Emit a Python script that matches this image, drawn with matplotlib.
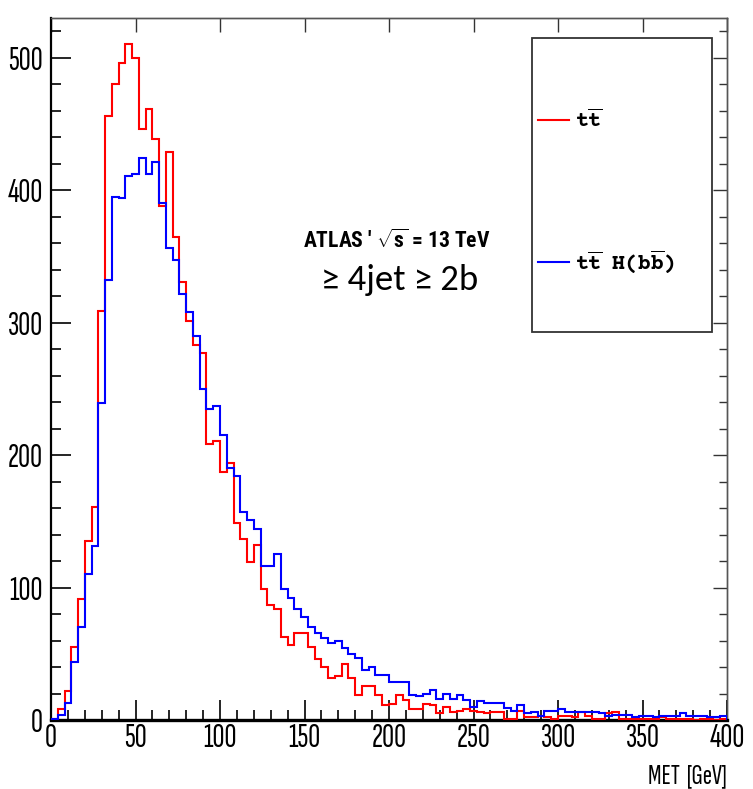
import matplotlib
matplotlib.use("Agg")
import matplotlib.pyplot as plt
import numpy as np
from matplotlib import font_manager
from matplotlib.ticker import MultipleLocator
from matplotlib.patches import Rectangle
from matplotlib.lines import Line2D

# ---------------- data ----------------
bin_width_gev = 4
x_range_gev = [0, 400]

series_labels = [r"$\mathtt{t\overline{t}}$", r"$\mathtt{t\overline{t}\ \ H(b\overline{b})}$"]
series_colors = ["#ff0000", "#0000ff"]

tt_counts = [1, 8, 22, 55, 91, 135, 161, 309, 456, 480,
             496, 510, 500, 446, 461, 439, 388, 429, 365, 331,
             301, 283, 277, 208, 211, 187, 194, 149, 137, 119,
             132, 99, 87, 84, 63, 57, 66, 66, 55, 46,
             40, 32, 33, 42, 32, 19, 26, 26, 19, 11,
             12, 19, 15, 8, 8, 12, 11, 5, 10, 6,
             7, 8, 7, 6, 5, 6, 6, 1, 1, 7,
             2, 2, 3, 2, 1, 3, 3, 2, 6, 3,
             1, 1, 5, 6, 1, 1, 1, 1, 1, 1,
             2, 1, 1, 1, 1, 0, 1, 1, 0, 1]

tth_counts = [1, 4, 13, 44, 70, 110, 131, 239, 332, 395,
              394, 411, 412, 424, 412, 421, 390, 356, 347, 322,
              308, 290, 250, 235, 237, 215, 190, 184, 157, 151,
              144, 116, 116, 125, 99, 92, 84, 78, 70, 66,
              62, 58, 60, 54, 50, 47, 38, 40, 34, 34,
              29, 29, 29, 19, 18, 20, 23, 16, 20, 16,
              19, 15, 10, 14, 13, 13, 13, 9, 7, 11,
              5, 6, 3, 7, 7, 8, 6, 6, 6, 6,
              6, 5, 3, 4, 4, 4, 2, 3, 3, 2,
              3, 3, 3, 5, 3, 3, 3, 2, 2, 3]

y_max = 530
x_label = "MET  [GeV]"
atlas_text = r"ATLAS ' $\sqrt{\mathbf{s}}$ = 13 TeV"
selection_text = "≥ 4jet ≥ 2b"

# ---------------- fonts ----------------
available = {f.name for f in font_manager.fontManager.ttflist}


def pick(*names):
    for n in names:
        if n in available:
            return n
    return "DejaVu Sans"


narrow = pick("Sofia Sans Extra Condensed", "Roboto Condensed", "Liberation Sans")
cond = pick("Roboto Condensed", "Liberation Sans")
mono = pick("Courier Prime", "Liberation Mono", "DejaVu Sans Mono")
calib = pick("Carlito", "Open Sans", "DejaVu Sans")

plt.rcParams["font.family"] = [narrow, "DejaVu Sans"]
plt.rcParams["mathtext.fontset"] = "custom"
plt.rcParams["mathtext.rm"] = f"{cond}:bold"
plt.rcParams["mathtext.bf"] = f"{cond}:bold"
plt.rcParams["mathtext.it"] = f"{cond}:bold"
plt.rcParams["mathtext.tt"] = f"{mono}:bold"

# ---------------- figure ----------------
W, H = 753, 789
fig = plt.figure(figsize=(W / 100, H / 100), dpi=100)
left_px, right_px, top_px, bottom_px = 51, 727, 18, 720
ax = fig.add_axes([left_px / W, 1 - bottom_px / H,
                   (right_px - left_px) / W, (bottom_px - top_px) / H])

edges = np.arange(x_range_gev[0], x_range_gev[1] + bin_width_gev, bin_width_gev)
for vals, col in zip([tt_counts, tth_counts], series_colors):
    ax.stairs(vals, edges, color=col, linewidth=1.5, baseline=0, zorder=3)

ax.set_xlim(*x_range_gev)
ax.set_ylim(0, y_max)

ax.xaxis.set_major_locator(MultipleLocator(50))
ax.xaxis.set_minor_locator(MultipleLocator(10))
ax.yaxis.set_major_locator(MultipleLocator(100))
ax.yaxis.set_minor_locator(MultipleLocator(20))

px = 72 / 100.0
ax.tick_params(which="major", direction="in", length=20 * px, width=1.2,
               color="black", top=False, right=False)
ax.tick_params(which="minor", direction="in", length=10 * px, width=1.2,
               color="black", top=False, right=False)
ax.tick_params(axis="x", which="major", pad=2, labelsize=24)
ax.tick_params(axis="y", which="major", pad=6, labelsize=24)

ax.spines["left"].set_linewidth(1.6)
ax.spines["bottom"].set_linewidth(2.4)
ax.spines["left"].set_color("black")
ax.spines["bottom"].set_color("black")
for s in ["top", "right"]:
    ax.spines[s].set_linewidth(1.0)
    ax.spines[s].set_color("#555555")

# top and right ticks
secx = ax.secondary_xaxis("top")
secx.xaxis.set_major_locator(MultipleLocator(50))
secx.tick_params(which="major", direction="in", length=14 * px, width=1.0,
                 color="#333333", labeltop=False)
secx.spines["top"].set_linewidth(1.0)
secx.spines["top"].set_color("#555555")
secy = ax.secondary_yaxis("right")
secy.yaxis.set_major_locator(MultipleLocator(100))
secy.yaxis.set_minor_locator(MultipleLocator(20))
secy.tick_params(which="major", direction="in", length=14 * px, width=1.0,
                 color="#333333", labelright=False)
secy.tick_params(which="minor", direction="in", length=8 * px, width=1.0,
                 color="#333333", labelright=False)
secy.spines["right"].set_linewidth(1.0)
secy.spines["right"].set_color("#555555")

ax.set_xlabel(x_label, loc="right", fontsize=20, labelpad=8)

# annotation texts
ax.text(0.373, 0.672, atlas_text, transform=ax.transAxes, fontsize=15.6,
        fontweight="bold", fontfamily=[cond, "DejaVu Sans"],
        ha="left", va="baseline")
ax.text(0.400, 0.6125, selection_text, transform=ax.transAxes, fontsize=26.5,
        fontfamily=[calib, "DejaVu Sans"], ha="left", va="baseline")

# legend box (ROOT TLegend style)
lx0, lx1, ly0, ly1 = 532, 712, 38, 332
fig.patches.append(Rectangle((lx0 / W, 1 - ly1 / H), (lx1 - lx0) / W, (ly1 - ly0) / H,
                             transform=fig.transFigure, facecolor="white",
                             edgecolor="#333333", linewidth=1.3, zorder=5))
entry_y = [120, 262]
for lab, col, ey in zip(series_labels, series_colors, entry_y):
    fig.lines.append(Line2D([538 / W, 569 / W], [1 - ey / H, 1 - ey / H],
                            transform=fig.transFigure, color=col, linewidth=1.5,
                            zorder=6))
    fig.text(575 / W, 1 - ey / H, lab, fontsize=15.5, ha="left", va="center",
             zorder=6)

fig.savefig("out.png", dpi=100)
